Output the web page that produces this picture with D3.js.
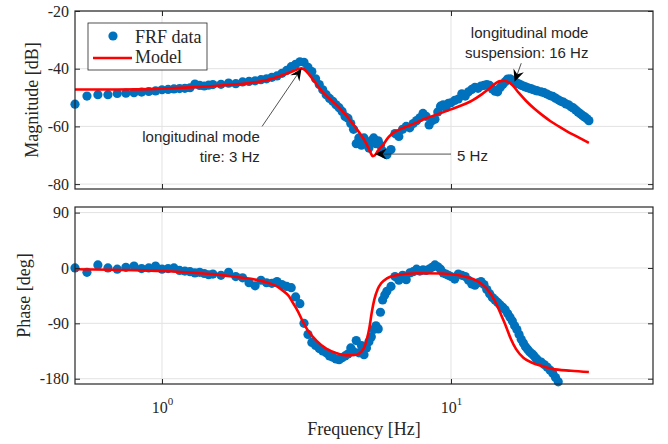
<!DOCTYPE html>
<html>
<head>
<meta charset="utf-8">
<script src="https://cdn.jsdelivr.net/npm/d3@7"></script>
<style>
body { margin: 0; background: #fff; }
svg { display: block; }
.tick text { font-family: "Liberation Serif", "Times New Roman", serif; font-size: 16px; fill: #262626; }
.axis-label { font-family: "Liberation Serif", "Times New Roman", serif; font-size: 18px; fill: #262626; }
.note { font-family: "Liberation Sans", Arial, sans-serif; font-size: 15px; fill: #262626; }
</style>
</head>
<body>
<svg width="668" height="444"></svg>
<script>
// measured FRF data (frequency in Hz)
const freq = [
  0.50, 0.55, 0.60, 0.65, 0.70, 0.75, 0.80, 0.85, 0.90, 0.95, 1.00, 1.05, 1.10, 1.15, 1.20, 1.25, 1.30, 1.35, 1.40, 1.45, 1.50,
  1.6, 1.7, 1.8, 1.9, 2.0, 2.1, 2.2, 2.3, 2.4, 2.5, 2.6, 2.7, 2.8, 2.9, 3.0, 3.1, 3.2, 3.3, 3.4, 3.5, 3.6, 3.7, 3.8, 3.9, 4.0,
  4.1, 4.2, 4.3, 4.4, 4.5, 4.6, 4.7, 4.8, 4.9, 5.0, 5.1, 5.2, 5.3, 5.4, 5.5, 5.6, 5.7, 5.8, 5.9, 6.0,
  6.2, 6.4, 6.6, 6.8, 7.0, 7.2, 7.4, 7.6, 7.8, 8.0, 8.2, 8.4, 8.6, 8.8, 9.0, 9.2, 9.4, 9.6, 9.8, 10.0,
  10.3, 10.6, 10.9, 11.2, 11.5, 11.8, 12.1, 12.4, 12.7, 13.0, 13.3, 13.6, 13.9, 14.2, 14.5, 14.8, 15.1, 15.4, 15.7, 16.0,
  16.3, 16.6, 16.9, 17.2, 17.5, 17.8, 18.1, 18.4, 18.7, 19.0, 19.3, 19.6, 19.9,
  20.5, 21.0, 21.5, 22.0, 22.5, 23.0, 23.5, 24.0, 24.5, 25.0, 25.5, 26.0, 26.5, 27.0, 27.5, 28.0, 28.5, 29.0, 29.5, 30.0
];
const magData = [
  -52.3, -49.5, -49.0, -49.0, -48.6, -48.5, -48.3, -48.1, -47.9, -47.7, -47.3, -47.2, -47.0, -46.9, -46.8, -46.6, -45.3, -45.8, -46.0, -45.7, -45.5,
  -45.4, -45.0, -45.2, -44.6, -44.4, -44.2, -43.8, -43.5, -43.0, -42.5, -41.6, -40.6, -39.3, -38.5, -37.6, -37.8, -39.5, -41.0, -43.5, -45.5, -47.3, -49.0, -50.3, -51.3, -52.5,
  -53.5, -54.8, -56.6, -57.2, -59.0, -61.0, -66.0, -64.0, -66.5, -64.0, -65.5, -67.5, -65.0, -64.0, -66.0, -65.0, -66.5, -68.5, -69.5, -69.8,
  -68.0, -62.5, -63.5, -61.0, -60.0, -60.5, -59.0, -58.0, -57.0, -55.5, -56.5, -59.5, -58.0, -57.5, -55.0, -53.0, -52.5, -53.5, -52.0, -51.8,
  -51.0, -50.5, -48.7, -49.5, -48.0, -47.2, -46.5, -46.8, -46.0, -45.8, -45.5, -45.8, -47.0, -47.8, -48.0, -46.5, -45.5, -44.5, -43.6, -43.5,
  -44.0, -44.5, -45.0, -45.3, -45.7, -46.0, -46.3, -46.6, -46.8, -47.0, -47.3, -47.5, -47.7,
  -48.0, -48.3, -48.8, -49.3, -49.6, -50.2, -50.8, -51.3, -51.6, -52.2, -52.5, -53.2, -53.6, -54.3, -55.0, -55.6, -56.2, -56.7, -57.3, -58.0
];
// phase past -180 wraps off the plotted range
const phaseData = [
  0, -7, 5, 0, -2, 1, 3, -1, 0, 3, -2, -1, 0, -4, -5, -6, -8, -7, -9, -11, -10,
  -12, -7, -14, -16, -24, -29, -20, -24, -25, -22, -27, -30, -32, -47, -58, -90, -108, -121, -126, -131, -135, -138, -143, -145, -148,
  -149, -146, -143, -140, -130, -136, -118, -138, -126, -141, -130, -120, -112, -100, -94, -99, -72, -52, -44, -38,
  -30, -14, -20, -12, -19, -8, -6, -2, -5, -3, -4, -2, 1, 5, 2, -2, -8, -10, -12, -14,
  -18, -10, -12, -14, -20, -26, -28, -24, -22, -27, -35, -42, -48, -52, -56, -60, -64, -68, -74, -80,
  -86, -94, -100, -108, -116, -122, -128, -132, -136, -139, -142, -146, -149,
  -153, -157, -161, -166, -171, -178, -185, null, null, null, null, null, null, null, null, null, null, null, null, null
];

// fitted model
const modelMagFreq = [0.5, 0.7, 1.0, 1.3, 1.6, 2.0, 2.3, 2.62, 2.85, 2.98, 3.04, 3.12, 3.24, 3.59, 4.12, 4.7, 5.09, 5.25, 5.36,
  5.45, 5.6, 5.81, 6.05, 6.28, 6.7, 7.18, 8.2, 10.0, 11.9, 12.8, 13.6, 14.3, 14.8, 15.3, 15.8, 16.3, 17.2, 18.2, 19.4, 20.7, 22.1, 23.6, 25.2, 27.0, 30.0];
const modelMag = [-47.2, -47.2, -46.9, -46.4, -45.8, -45.0, -44.0, -42.2, -40.8, -40.0, -39.9, -40.4, -42.2, -48.0, -53.7, -60.7, -65.9, -68.8, -70.3,
  -70.0, -68.3, -66.5, -64.0, -62.4, -60.9, -59.7, -57.2, -54.1, -50.9, -48.8, -46.8, -45.0, -44.3, -44.2, -44.7, -45.7, -48.5, -51.2, -53.8, -56.1, -58.2, -60.0, -61.7, -63.3, -65.7];
const modelPhaseFreq = [0.5, 0.8, 1.0, 1.3, 1.5, 1.76, 2.0, 2.36, 2.5, 2.62, 2.75, 2.84, 2.95, 3.07, 3.2, 3.42, 3.7, 4.0, 4.34, 4.7, 4.9,
  5.02, 5.12, 5.22, 5.32, 5.43, 5.58, 5.73, 6.0, 6.28, 7.58, 9.35, 10.5, 11.3, 12.3, 13.2, 13.8, 14.3, 14.9, 15.5, 16.1, 16.8, 17.8, 19.1, 20.5, 22.4, 26.0, 30.0];
const modelPhase = [-2, -3.5, -5, -8, -10, -14, -17, -25, -30, -37, -46, -57, -70, -87, -102, -118, -131, -138, -142, -141, -136,
  -128, -115, -97, -72, -51, -34, -25, -17, -13, -8.5, -9, -11.5, -14.6, -21, -32, -44, -57, -76, -95, -115, -132, -146, -154, -159, -164, -167, -169];

const xTicks = [1, 10];
const magTicks = [-20, -40, -60, -80];
const phaseTicks = [90, 0, -90, -180];

const svg = d3.select("svg");
const left = 75, right = 653;
const top1 = 11, bot1 = 189, top2 = 207, bot2 = 384;

const x = d3.scaleLog().domain([0.5, 50]).range([left, right]);
const yMag = d3.scaleLinear().domain([-81.7, -20]).range([bot1, top1]);
const yPh = d3.scaleLinear().domain([-188.6, 99.1]).range([bot2, top2]);

const blue = "#0072BD", red = "#ff0000", ink = "#262626";

const frf = freq.map((f, i) => ({ f, mag: magData[i], phase: phaseData[i] }));
const modelM = modelMagFreq.map((f, i) => ({ f, v: modelMag[i] }));
const modelP = modelPhaseFreq.map((f, i) => ({ f, v: modelPhase[i] }));

const drawPanel = (y, yTicks, top, bot, points, model, showX) => {
    const g = svg.append('g');

    // grid
    g.selectAll('.gx').data(xTicks).enter().append('line')
        .attr('x1', d => x(d)).attr('x2', d => x(d))
        .attr('y1', top).attr('y2', bot)
        .attr('stroke', '#e2e2e2').attr('stroke-width', 1);
    g.selectAll('.gy').data(yTicks).enter().append('line')
        .attr('x1', left).attr('x2', right)
        .attr('y1', d => y(d)).attr('y2', d => y(d))
        .attr('stroke', '#e2e2e2').attr('stroke-width', 1);

    g.selectAll('circle').data(points).enter().append('circle')
        .attr('cx', d => x(d.f))
        .attr('cy', d => y(d.v))
        .attr('r', 4.6)
        .attr('fill', blue);

    const line = d3.line().x(d => x(d.f)).y(d => y(d.v)).curve(d3.curveMonotoneX);
    g.append('path').datum(model)
        .attr('d', line)
        .attr('fill', 'none')
        .attr('stroke', red)
        .attr('stroke-width', 2.6)
        .attr('stroke-linejoin', 'round');

    const fmt = d => String(d);
    const yL = g.append('g').attr('transform', `translate(${left},0)`)
        .call(d3.axisLeft(y).tickValues(yTicks).tickSizeInner(-5).tickSizeOuter(0).tickPadding(6).tickFormat(fmt));
    const yR = g.append('g').attr('transform', `translate(${right},0)`)
        .call(d3.axisRight(y).tickValues(yTicks).tickSizeInner(-5).tickSizeOuter(0).tickFormat(''));
    const xT = g.append('g').attr('transform', `translate(0,${top})`)
        .call(d3.axisTop(x).tickValues(xTicks).tickSizeInner(-5).tickSizeOuter(0).tickFormat(''));
    const xB = g.append('g').attr('transform', `translate(0,${bot})`)
        .call(d3.axisBottom(x).tickValues(xTicks).tickSizeInner(-5).tickSizeOuter(0).tickFormat(''));
    [yL, yR, xT, xB].forEach(a => {
        a.select('.domain').remove();
        a.selectAll('.tick line').attr('stroke', ink).attr('stroke-width', 1);
    });

    if (showX) {
        const t = xB.selectAll('.tick').append('text')
            .attr('y', 29)
            .attr('text-anchor', 'middle')
            .attr('fill', ink);
        t.append('tspan').text('10');
        t.append('tspan').attr('dy', -8).attr('font-size', '11px')
            .text(d => Math.round(Math.log10(d)));
    }

    g.append('rect')
        .attr('x', left).attr('y', top)
        .attr('width', right - left).attr('height', bot - top)
        .attr('fill', 'none').attr('stroke', ink).attr('stroke-width', 1.2);
    return g;
};

drawPanel(yMag, magTicks, top1, bot1, frf.map(d => ({ f: d.f, v: d.mag })), modelM, false);
drawPanel(yPh, phaseTicks, top2, bot2, frf.filter(d => d.phase !== null).map(d => ({ f: d.f, v: d.phase })), modelP, true);

// axis labels
svg.append('text').attr('class', 'axis-label')
    .attr('transform', `translate(38,${(top1 + bot1) / 2}) rotate(-90)`)
    .attr('text-anchor', 'middle')
    .text('Magnitude [dB]');
svg.append('text').attr('class', 'axis-label')
    .attr('transform', `translate(30,${(top2 + bot2) / 2}) rotate(-90)`)
    .attr('text-anchor', 'middle')
    .text('Phase [deg]');
svg.append('text').attr('class', 'axis-label')
    .attr('x', (left + right) / 2).attr('y', 435)
    .attr('text-anchor', 'middle')
    .text('Frequency [Hz]');

// annotations (positions in data units)
const arrow = (f1, m1, f2, m2) => {
    const x1 = x(f1), y1 = yMag(m1), x2 = x(f2), y2 = yMag(m2);
    const a = Math.atan2(y2 - y1, x2 - x1);
    const L = 12, W = 5.5;
    const bx = x2 - L * Math.cos(a), by = y2 - L * Math.sin(a);
    const nx = x2 - 0.65 * L * Math.cos(a), ny = y2 - 0.65 * L * Math.sin(a);
    const px = -Math.sin(a) * W, py = Math.cos(a) * W;
    svg.append('line')
        .attr('x1', x1).attr('y1', y1).attr('x2', nx).attr('y2', ny)
        .attr('stroke', ink).attr('stroke-width', 0.8);
    svg.append('path')
        .attr('d', `M${x2},${y2}L${bx + px},${by + py}L${nx},${ny}L${bx - px},${by - py}Z`)
        .attr('fill', '#000');
};
arrow(2.22, -60, 3.04, -39.9);
arrow(17.5, -38.1, 16.6, -44.5);
arrow(10.0, -69.6, 5.45, -69.6);

const note = (f, m, txt, anchor) => svg.append('text').attr('class', 'note')
    .attr('x', x(f)).attr('y', yMag(m)).attr('text-anchor', anchor).text(txt);
note(2.18, -65.3, 'longitudinal mode', 'end');
note(2.18, -72.5, 'tire: 3 Hz', 'end');
note(29.9, -29.5, 'longitudinal mode', 'end');
note(29.9, -36.4, 'suspension: 16 Hz', 'end');
note(10.5, -72.0, '5 Hz', 'start');

// legend
const lg = svg.append('g').attr('transform', 'translate(88,23)');
lg.append('rect').attr('width', 119).attr('height', 47)
    .attr('fill', '#fff').attr('stroke', ink).attr('stroke-width', 0.8);
lg.append('circle').attr('cx', 25).attr('cy', 13).attr('r', 4.6).attr('fill', blue);
lg.append('line').attr('x1', 5).attr('x2', 44).attr('y1', 35).attr('y2', 35)
    .attr('stroke', red).attr('stroke-width', 2.6);
lg.append('text').attr('class', 'axis-label').attr('x', 47).attr('y', 20).text('FRF data');
lg.append('text').attr('class', 'axis-label').attr('x', 47).attr('y', 40).text('Model');
</script>
</body>
</html>
